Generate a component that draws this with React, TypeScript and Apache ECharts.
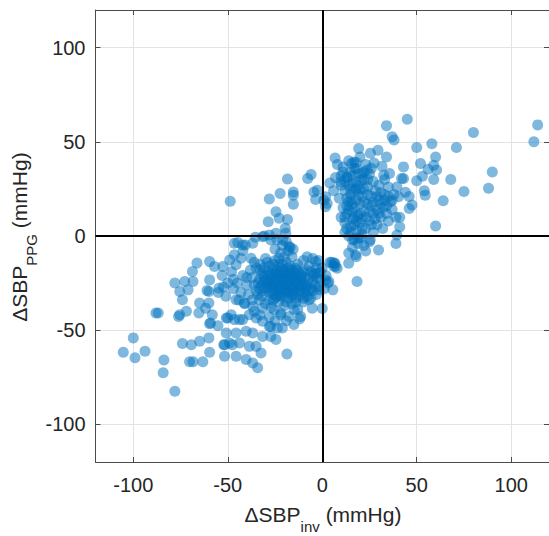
import React, { useEffect, useRef } from "react";
import * as echarts from "echarts";

const tickValues = [-100, -50, 0, 50, 100];
const axisMin = -120;
const axisMax = 120;

// Upper-right quadrant, sparse points [ΔSBP_inv, ΔSBP_PPG]
const upperRightSparse: number[][] = [
  [45, 62], [114, 59], [112, 50], [80, 55], [58, 49], [50, 47], [71, 47], [60, 42], [52, 38.5], [59, 37.6],
  [60.5, 35], [56, 35.4], [43, 36.7], [43, 30.5], [50, 29.3], [53, 31.7], [59, 30], [68, 30], [90, 34], [88, 25.4],
  [75, 23.6], [64, 18.7], [54, 24], [54.5, 21.7], [44, 23.2], [46, 21], [47.5, 16.4], [46, 14.6], [60, 5.3], [41, 10],
  [41, 4.8], [34, 58.6], [37, 52.7], [38, 51], [19.3, 46.4], [6.8, 41.4], [16.8, 39.3], [25.5, 44], [29.5, 45.5], [34, 42],
  [27.4, 38.8], [31.6, 37], [35.6, 33.2], [42, 30.5], [11, 36.7], [13.2, 31.4], [21, 33.2], [23.7, 35], [32.5, 32.3], [39.5, 26],
  [40.4, 20.8], [39.5, 0.5], [39, -4], [29.8, -7.4], [25.4, -2.1], [17.6, -10], [14, -14.5], [6.7, -14.5], [5, -14], [18.4, -24.2],
  [15.5, 38.5], [18, 35.8], [4, 28.2], [9.7, 28.7],
];

// Upper-right dense cluster
const upperRightCore: number[][] = [
  [8, 38], [11, 34], [14, 40], [17, 36], [20, 42], [23, 38], [13, 31], [16, 28], [19, 33], [22, 30],
  [10, 27], [12, 24], [15, 22], [18, 25], [21, 21], [24, 26], [14, 18], [17, 15], [20, 17], [13, 12],
  [16, 9], [19, 11], [15, 5], [18, 3], [14, 0], [17, -2], [20, 7], [22, 13], [12, 7], [11, 15],
  [19, -4], [16, -6], [21, 1], [23, 4], [18, 19], [15, 34], [25, 33], [27, 29], [28, 24], [30, 19],
  [32, 15], [33, 22], [35, 26], [36, 18], [34, 12], [31, 10], [29, 14], [38, 22], [37, 14], [27, 12],
  [25, 8], [24, 17], [26, 21], [30, 27], [33, 30], [9, 20], [7, 31], [6, 24], [10, 10], [12, 2],
  [20, -1], [22, -5], [14, -9], [18, -11], [23, -8], [25, -3], [27, 2], [29, 6], [32, 4], [35, 8],
  [39, 10], [16, 13], [19, 22], [14, 27], [21, 9], [17, 6], [13, 20], [22, 25], [26, 16], [31, 23],
  [13, 16], [15, 19], [17, 24], [19, 27], [21, 30], [15, 25], [18, 29], [12, 10], [14, 14], [16, 17],
  [18, 8], [20, 12], [22, 18], [24, 22], [21, 4], [19, -1], [15, 2], [17, 10], [13, 4], [16, -2],
  [23, 10], [25, 13], [27, 18], [29, 21], [31, 17], [33, 19], [28, 9], [26, 6], [20, 25], [22, 34],
  [16, 32], [18, 39], [12, 29], [10, 32], [24, 30], [26, 36], [35, 21], [34, 16], [37, 19], [30, 12],
];

// Left of zero, around and above the x axis
const upperLeft: number[][] = [
  [-48.7, 18.5], [-28, 19.7], [-22.3, 22.6], [-15.3, 23.3], [-15.3, 21.7], [-15.3, 16.9], [-18.4, 30.3], [-7.7, 30.5],
  [-5.9, 32.6], [-4.4, 23.4], [-2.6, 24.3], [-3.5, 19.4], [0.9, 19], [1.8, 15.5], [1.8, 20.8], [2.6, 17.3],
  [-24.5, 12.9], [-22.8, 9.4], [-18.4, 8.8], [-28.6, 7.6], [-19.6, 4.1], [-35.4, -0.7], [-30.7, 0], [-27.2, -2.1],
  [-21, -2.1], [-17.5, -5.7], [-15.4, -7], [-31.6, -0.4], [-28, 0.5], [-24.5, 1.4], [-19.3, 1.4], [-46.5, -3.9],
  [-42.1, -4.8], [-36.8, -3.9], [-44.7, -3.5], [-40.7, -4.8], [-42, -7.8],
];

// Lower-left quadrant, sparse points
const lowerLeftSparse: number[][] = [
  [-49, -12.7], [-46.5, -10], [-43, -11.8], [-45.6, -15.3], [-37.7, -11.8], [-59.6, -13.6], [-57, -16.2], [-52.6, -16.2],
  [-66.3, -14.4], [-68.7, -18.9], [-78, -25], [-72.8, -24.2], [-68.4, -24.2], [-75.4, -29.5], [-71, -28.6], [-74, -33.9],
  [-59.6, -23.3], [-61, -28.9], [-54.7, -27.7], [-52.3, -27.1], [-64.9, -35.6], [-61.7, -38.3], [-58.2, -41.8], [-71.9, -40],
  [-75.4, -41.8], [-88, -40.9], [-86.8, -40.9], [-76, -42.7], [-59.6, -46.6], [-55.2, -47.6], [-50, -43.5], [-48.2, -41.8],
  [-43.8, -44.4], [-100, -54.1], [-105.3, -61.7], [-99.1, -64.7], [-93.8, -61.2], [-83.8, -65.8], [-84.2, -72.6], [-78, -82.4],
  [-74, -57.1], [-69.3, -57.7], [-64.9, -55.9], [-60, -54.1], [-59.6, -61.7], [-70.2, -66.8], [-68.4, -66.8], [-63.2, -66.8],
  [-51.7, -63.9], [-45.6, -63.9], [-40.3, -65.6], [-36.8, -67.4], [-34.2, -70], [-18.7, -62.6], [-51.7, -57.7], [-49.1, -56.8],
  [-43.8, -56.8], [-38.6, -58.6], [-35, -58.6], [-32.4, -62.1], [-50.8, -51.5], [-45.6, -51.5], [-40.3, -50.6], [-36.8, -51.5],
  [-31.6, -53.3], [-27.2, -53.3], [-24.5, -55], [-21.1, -48.8], [-50.8, -43.5], [-46.5, -44.4], [-42.1, -44.4], [-38.6, -41.8],
  [-35, -43.5], [-31.6, -45.3], [-27.2, -48], [-23.7, -48.8], [-45.6, -33.9], [-41.2, -35.6], [-36.8, -37.4], [-33.3, -33.9],
  [-31.6, -38.3], [-25.4, -39.2], [-21.9, -40.9], [-17.5, -42.7], [-14.9, -39.2], [-11.4, -42.7], [-5.3, -38.3], [0, -38.5],
  [-7, -33.9], [-1.8, -28.6], [1.8, -23.3], [3.5, -24.2], [6.2, -14.4], [7, -16.2], [7.9, -17.1], [5.6, -28.6],
  [-3.5, -13.6], [-2.6, -19.7], [-60, -35.6], [-60, -29.5], [-65.3, -40.9], [-59.1, -46.2], [-52.1, -57.7], [-47.6, -57.7],
  [-45, -25], [-43, -30], [-40, -22], [-47, -28], [-44, -34], [-41, -36], [-37, -34], [-36, -40],
  [-33, -42], [-28, -43], [-25, -45], [-22, -42], [-19, -45], [-15, -47], [-12, -44], [-28, -48],
  [-53, -21], [-50, -25], [-48, -19], [-55, -30], [-51, -32], [-47, -23],
];

// Lower-left dense cluster
const lowerLeftCore: number[][] = [
  [-36, -14], [-33, -18], [-30, -12], [-28, -16], [-25, -13], [-22, -17], [-19, -14], [-16, -18], [-13, -15], [-10, -19],
  [-7, -16], [-4, -20], [-37, -22], [-34, -25], [-31, -21], [-28, -24], [-25, -20], [-22, -23], [-20, -26], [-17, -22],
  [-14, -25], [-11, -23], [-8, -26], [-5, -24], [-2, -27], [-35, -29], [-32, -32], [-29, -28], [-26, -31], [-24, -27],
  [-21, -30], [-18, -33], [-15, -29], [-12, -32], [-9, -30], [-6, -33], [-3, -31], [-30, -36], [-27, -38], [-23, -35],
  [-20, -37], [-16, -36], [-13, -39], [-10, -35], [-27, -20], [-24, -23], [-21, -21], [-18, -25], [-15, -21], [-12, -27],
  [-26, -27], [-23, -29], [-19, -29], [-16, -31], [-29, -25], [-32, -26], [-20, -19], [-17, -16], [-23, -15], [-14, -20],
  [-9, -22], [-6, -28], [-33, -15], [-38, -18], [-40, -26], [-42, -21], [-39, -31],
  [-24, -2], [-21, -5], [-18, -8], [-22, -9], [-19, -3], [-16, -11], [-25, -7], [-20, -11], [-17, -6], [-23, -12],
  [0, -17], [2, -21], [3, -25], [-1, -23], [1, -28], [4, -14], [6, -16], [-2, -13], [-5, -12], [-8, -11], [-10, -13],
  [-26, -18], [-18, -20], [-22, -26], [-28, -30], [-13, -24], [-24, -32], [-9, -27], [-31, -17],
  [-35, -17], [-32, -20], [-29, -14], [-27, -22], [-24, -18], [-21, -15], [-19, -21], [-16, -24], [-13, -18], [-11, -21],
  [-8, -18], [-5, -21], [-3, -17], [-36, -26], [-33, -23], [-30, -27], [-27, -26], [-25, -29], [-22, -20], [-20, -23],
  [-17, -27], [-15, -23], [-12, -29], [-10, -25], [-7, -23], [-4, -26], [-34, -31], [-31, -29], [-28, -34], [-25, -33],
  [-22, -32], [-19, -35], [-17, -30], [-14, -33], [-11, -30], [-8, -32], [-5, -29], [-29, -19], [-26, -24], [-23, -21],
  [-20, -28], [-18, -17], [-15, -26], [-12, -22], [-9, -28], [-6, -19], [-24, -26], [-21, -24], [-18, -30], [-16, -20],
  [-26, -34], [-31, -24], [-14, -35], [-10, -33], [-7, -29], [-3, -22], [-1, -19],
  [-28, -21], [-25, -24], [-22, -28], [-19, -25], [-16, -28], [-13, -26], [-27, -29], [-24, -20], [-21, -18], [-18, -23],
  [-15, -31], [-12, -20], [-30, -23], [-26, -15], [-20, -32], [-11, -27], [-33, -28], [-17, -19], [-23, -31], [-14, -17],
];

const allPoints = [
  ...upperRightSparse,
  ...upperRightCore,
  ...upperLeft,
  ...lowerLeftSparse,
  ...lowerLeftCore,
];

const FONT = "'Liberation Sans', Arial, Helvetica, sans-serif";
const TEXT = "#262626";
const AXIS = "#4a4a4a";
const GRID = "#e3e3e3";

export default function App() {
  const ref = useRef<HTMLDivElement>(null);

  useEffect(() => {
    if (!ref.current) return;
    const chart = echarts.init(ref.current, undefined, { renderer: "svg" });

    const baseAxis = (position: string, labels: boolean, split: boolean, margin: number) => ({
      type: "value",
      position,
      min: axisMin,
      max: axisMax,
      axisLine: { show: true, onZero: false, lineStyle: { color: AXIS, width: 1 } },
      axisTick: {
        show: true,
        inside: true,
        length: 5,
        customValues: tickValues,
        lineStyle: { color: AXIS, width: 1 },
      },
      axisLabel: {
        show: labels,
        customValues: tickValues,
        fontSize: 20,
        fontFamily: FONT,
        color: TEXT,
        margin,
      },
      splitLine: { show: split, lineStyle: { color: GRID, width: 1 } },
    });

    const titleRich = {
      a: { fontSize: 21, lineHeight: 40, fontFamily: FONT, fill: TEXT },
      s: { fontSize: 15, lineHeight: 15, verticalAlign: "bottom", fontFamily: FONT, fill: TEXT },
    };

    chart.setOption({
      animation: false,
      grid: { left: 95.5, top: 10, width: 456, height: 452, containLabel: false },
      xAxis: [baseAxis("bottom", true, true, 13), baseAxis("top", false, false, 8)],
      yAxis: [baseAxis("left", true, true, 10), baseAxis("right", false, false, 8)],
      series: [
        {
          type: "scatter",
          xAxisIndex: 0,
          yAxisIndex: 0,
          data: allPoints,
          symbol: "circle",
          symbolSize: 11,
          itemStyle: { color: "#0072BD", opacity: 0.5, borderWidth: 0 },
          markLine: {
            silent: true,
            symbol: "none",
            label: { show: false },
            lineStyle: { color: "#000", width: 2, type: "solid" },
            data: [{ xAxis: 0 }, { yAxis: 0 }],
          },
        },
      ],
      graphic: [
        {
          type: "text",
          x: 323,
          y: 514,
          style: {
            text: "{a|ΔSBP}{s|inv}{a| (mmHg)}",
            align: "center",
            verticalAlign: "middle",
            rich: titleRich,
          },
        },
        {
          type: "text",
          x: 19,
          y: 237,
          rotation: Math.PI / 2,
          style: {
            text: "{a|ΔSBP}{s|PPG}{a| (mmHg)}",
            align: "center",
            verticalAlign: "middle",
            rich: titleRich,
          },
        },
      ],
    });

    return () => chart.dispose();
  }, []);

  return (
    <div
      ref={ref}
      style={{ position: "absolute", left: 0, top: 0, width: 549, height: 536 }}
    />
  );
}
